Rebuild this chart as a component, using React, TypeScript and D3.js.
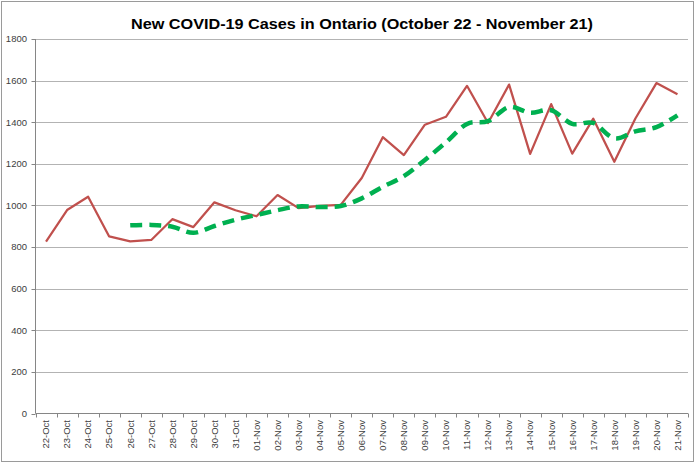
import React from "react";
import * as d3 from "d3";

const categories: string[] = [
  "22-Oct", "23-Oct", "24-Oct", "25-Oct", "26-Oct", "27-Oct", "28-Oct", "29-Oct", "30-Oct", "31-Oct",
  "01-Nov", "02-Nov", "03-Nov", "04-Nov", "05-Nov", "06-Nov", "07-Nov", "08-Nov", "09-Nov", "10-Nov",
  "11-Nov", "12-Nov", "13-Nov", "14-Nov", "15-Nov", "16-Nov", "17-Nov", "18-Nov", "19-Nov", "20-Nov",
  "21-Nov",
];

const dailyCases: number[] = [
  826, 978, 1042, 851, 827, 834, 934, 896, 1015, 977,
  948, 1050, 987, 998, 1003, 1132, 1328, 1242, 1388, 1426,
  1575, 1396, 1581, 1248, 1487, 1249, 1417, 1210, 1418, 1588,
  1534,
];

const averageCases: (number | null)[] = [
  null, null, null, null, 904.8, 906.4, 897.6, 868.4, 901.2, 931.2,
  954, 977.2, 995.4, 992, 997.2, 1034, 1089.6, 1140.6, 1218.6, 1303.2,
  1391.8, 1405.4, 1473.2, 1445.2, 1457.4, 1392.2, 1396.4, 1322.2, 1356.2, 1376.4,
  1433.4,
];

const yTicks: number[] = [0, 200, 400, 600, 800, 1000, 1200, 1400, 1600, 1800];

const title = "New COVID-19 Cases in Ontario (October 22 - November 21)";

export default function App() {
  const W = 696;
  const H = 464;
  const left = 35.5;
  const right = 688;
  const top = 39;
  const bottom = 413.5;

  const x = d3.scaleBand<string>().domain(categories).range([left, right]).padding(0);
  const y = d3.scaleLinear().domain([0, 1800]).range([bottom, top]);
  const cx = (c: string) => (x(c) as number) + x.bandwidth() / 2;

  const redLine = d3
    .line<number>()
    .x((_, i) => cx(categories[i]))
    .y((d) => y(d))(dailyCases);

  const avgPts = averageCases
    .map((v, i) => ({ c: categories[i], v }))
    .filter((d) => d.v !== null) as { c: string; v: number }[];
  const greenLine = d3
    .line<{ c: string; v: number }>()
    .x((d) => cx(d.c))
    .y((d) => y(d.v))
    .curve(d3.curveCatmullRom.alpha(0))(avgPts);

  const font = "'Liberation Sans', Arial, sans-serif";
  const boundaries = categories.map((c) => x(c) as number).concat([right]);

  return (
    <div style={{ position: "absolute", left: 0, top: 0 }}>
      <svg width={W} height={H} style={{ display: "block", background: "#fff" }}>
        <rect x={1.5} y={1.5} width={692} height={460} fill="#fff" stroke="#9a9a9a" strokeWidth={1} />
        <text
          x={362}
          y={29}
          textAnchor="middle"
          fontFamily={font}
          fontWeight="bold"
          fontSize={15.5}
          fill="#000"
          textLength={462}
          lengthAdjust="spacingAndGlyphs"
        >
          {title}
        </text>
        {yTicks.map((t) => (
          <g key={t}>
            {t > 0 && (
              <line x1={left} x2={right} y1={Math.round(y(t)) + 0.5} y2={Math.round(y(t)) + 0.5} stroke="#b3b3b3" strokeWidth={1} />
            )}
            <line x1={left - 4} x2={left} y1={Math.round(y(t)) + 0.5} y2={Math.round(y(t)) + 0.5} stroke="#868686" />
            <text
              x={27}
              y={y(t)}
              dy="0.35em"
              textAnchor="end"
              fontFamily={font}
              fontSize={9.5}
              fill="#404040"
            >
              {t}
            </text>
          </g>
        ))}
        <line x1={left} x2={left} y1={top} y2={bottom} stroke="#868686" />
        <line x1={left} x2={right} y1={bottom} y2={bottom} stroke="#868686" />
        {boundaries.map((b, i) => (
          <line key={i} x1={Math.round(b) + 0.5} x2={Math.round(b) + 0.5} y1={bottom} y2={bottom + 4} stroke="#868686" />
        ))}
        {categories.map((c) => (
          <text
            key={c}
            transform={`translate(${cx(c)},${420}) rotate(-90)`}
            textAnchor="end"
            dy="0.35em"
            fontFamily={font}
            fontSize={9.5}
            fill="#404040"
          >
            {c}
          </text>
        ))}
        <path d={redLine || ""} fill="none" stroke="#c0504d" strokeWidth={2.25} strokeLinejoin="round" />
        <path
          d={greenLine || ""}
          fill="none"
          stroke="#00b050"
          strokeWidth={4.5}
          strokeDasharray="12,7"
          strokeLinecap="butt"
        />
      </svg>
    </div>
  );
}
